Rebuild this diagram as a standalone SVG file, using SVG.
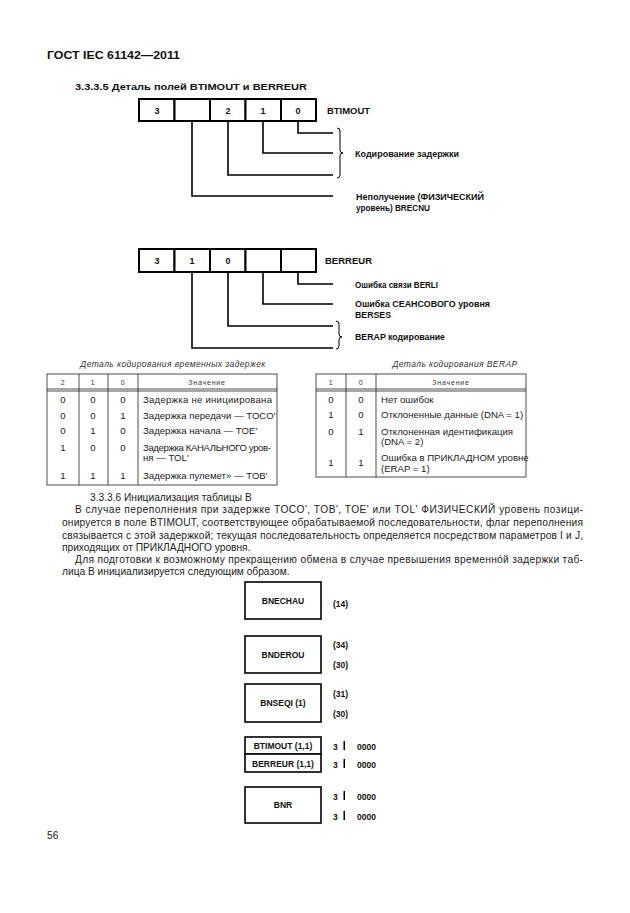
<svg xmlns="http://www.w3.org/2000/svg" width="630" height="913" viewBox="0 0 630 913">
<style>
text{font-family:"Liberation Sans",Arial,sans-serif;fill:#111}
.b{font-weight:bold}
.lbl{font-weight:bold;font-size:8.5px}
.bit{font-weight:bold;font-size:9px;text-anchor:middle}
.cell{fill:#fff;stroke:#000;stroke-width:2}
.ln{fill:none;stroke:#000;stroke-width:1.6}
.br{fill:none;stroke:#000;stroke-width:1}
.t{font-size:9.6px;fill:#222}
.th{font-size:7px;fill:#333;letter-spacing:0.8px;text-anchor:middle}
.tc{font-size:9.6px;fill:#222;text-anchor:middle}
.cap{font-size:8.5px;font-style:italic;fill:#333;text-anchor:middle;letter-spacing:0.4px}
.tl{fill:none;stroke:#222;stroke-width:0.8}
.box{fill:#fff;stroke:#000;stroke-width:1.6}
.bl{font-weight:bold;font-size:8.5px;text-anchor:middle}
.p{font-size:10.2px;fill:#222}
</style>

<g id="header">
<text class="b" x="47" y="59" font-size="11.5" textLength="133" lengthAdjust="spacingAndGlyphs">ГОСТ IEC 61142—2011</text>
<text class="b" x="75" y="90" font-size="9.5" textLength="232" lengthAdjust="spacingAndGlyphs">3.3.3.5 Деталь полей BTIMOUT и BERREUR</text>
</g>

<g id="btimout">
<rect class="cell" x="139" y="99" width="35.5" height="22"/>
<rect class="cell" x="174.5" y="99" width="35.5" height="22"/>
<rect class="cell" x="210" y="99" width="35.5" height="22"/>
<rect class="cell" x="245.5" y="99" width="35.5" height="22"/>
<rect class="cell" x="281" y="99" width="35" height="22"/>
<text class="bit" x="157" y="113.5">3</text>
<text class="bit" x="228" y="113.5">2</text>
<text class="bit" x="263" y="113.5">1</text>
<text class="bit" x="298" y="113.5">0</text>
<text class="lbl" x="327" y="113.5" textLength="43" lengthAdjust="spacingAndGlyphs">BTIMOUT</text>
</g>

<g id="btimout-labels">
<text class="lbl" x="355" y="157" textLength="104" lengthAdjust="spacingAndGlyphs">Кодирование задержки</text>
<text class="lbl" x="356" y="200" textLength="128" lengthAdjust="spacingAndGlyphs">Неполучение (ФИЗИЧЕСКИЙ</text>
<text class="lbl" x="356" y="211" textLength="74" lengthAdjust="spacingAndGlyphs">уровень) BRECNU</text>
</g>

<g id="berreur">
<rect class="cell" x="139" y="249" width="35.5" height="23"/>
<rect class="cell" x="174.5" y="249" width="35.5" height="23"/>
<rect class="cell" x="210" y="249" width="35.5" height="23"/>
<rect class="cell" x="245.5" y="249" width="35.5" height="23"/>
<rect class="cell" x="281" y="249" width="35" height="23"/>
<text class="bit" x="157" y="264">3</text>
<text class="bit" x="192" y="264">1</text>
<text class="bit" x="228" y="264">0</text>
<text class="lbl" x="325" y="264" textLength="47" lengthAdjust="spacingAndGlyphs">BERREUR</text>
</g>

<g id="berreur-labels">
<text class="lbl" x="355" y="288" textLength="83" lengthAdjust="spacingAndGlyphs">Ошибка связи BERLI</text>
<text class="lbl" x="355" y="307" textLength="135" lengthAdjust="spacingAndGlyphs">Ошибка СЕАНСОВОГО уровня</text>
<text class="lbl" x="355" y="318" textLength="36" lengthAdjust="spacingAndGlyphs">BERSES</text>
<text class="lbl" x="355" y="340" textLength="90" lengthAdjust="spacingAndGlyphs">BERAP кодирование</text>
</g>

<g id="connectors">
<path class="ln" d="M298,121 V133 H333"/>
<path class="ln" d="M263,121 V153 H333"/>
<path class="ln" d="M228,121 V175 H333"/>
<path class="ln" d="M192,121 V196 H333"/>
<path class="br" d="M337,128 q3,0 3,3 V150 q0,3 3,3 q-3,0 -3,3 V175 q0,3 -3,3"/>
<path class="ln" d="M298,272 V284 H333"/>
<path class="ln" d="M263,272 V304 H333"/>
<path class="ln" d="M228,272 V326 H333"/>
<path class="ln" d="M192,272 V348 H333"/>
<path class="br" d="M336,321 q3,0 3,3 V334 q0,3 3,3 q-3,0 -3,3 V346 q0,3 -3,3"/>
</g>

<g id="table-delays">
<text class="cap" x="173" y="367">Деталь кодирования временных задержек</text>
<rect class="tl" x="47" y="374" width="230" height="111"/>
<line class="tl" x1="79" y1="374" x2="79" y2="485"/>
<line class="tl" x1="108" y1="374" x2="108" y2="485"/>
<line class="tl" x1="138" y1="374" x2="138" y2="485"/>
<line class="tl" x1="47" y1="389" x2="277" y2="389"/>
<line class="tl" x1="47" y1="391" x2="277" y2="391"/>
<text class="th" x="63" y="385">2</text>
<text class="th" x="93" y="385">1</text>
<text class="th" x="123" y="385">0</text>
<text class="th" x="207" y="385">Значение</text>
<text class="tc" x="63" y="403">0</text><text class="tc" x="93" y="403">0</text><text class="tc" x="123" y="403">0</text>
<text class="t" x="143" y="403" textLength="129" lengthAdjust="spacing">Задержка не инициирована</text>
<text class="tc" x="63" y="419">0</text><text class="tc" x="93" y="419">0</text><text class="tc" x="123" y="419">1</text>
<text class="t" x="143" y="419">Задержка передачи — TOCO'</text>
<text class="tc" x="63" y="434">0</text><text class="tc" x="93" y="434">1</text><text class="tc" x="123" y="434">0</text>
<text class="t" x="143" y="434">Задержка начала — TOE'</text>
<text class="tc" x="63" y="451">1</text><text class="tc" x="93" y="451">0</text><text class="tc" x="123" y="451">0</text>
<text class="t" x="143" y="451" textLength="128" lengthAdjust="spacing">Задержка КАНАЛЬНОГО уров-</text>
<text class="t" x="143" y="461">ня — TOL'</text>
<text class="tc" x="63" y="479">1</text><text class="tc" x="93" y="479">1</text><text class="tc" x="123" y="479">1</text>
<text class="t" x="143" y="479">Задержка пулемет» — TOB'</text>
</g>

<g id="table-berap">
<text class="cap" x="455" y="367">Деталь кодирования BERAP</text>
<rect class="tl" x="316" y="374" width="210" height="103"/>
<line class="tl" x1="346" y1="374" x2="346" y2="477"/>
<line class="tl" x1="376" y1="374" x2="376" y2="477"/>
<line class="tl" x1="316" y1="389" x2="526" y2="389"/>
<line class="tl" x1="316" y1="391" x2="526" y2="391"/>
<text class="th" x="331" y="385">1</text>
<text class="th" x="361" y="385">0</text>
<text class="th" x="451" y="385">Значение</text>
<text class="tc" x="331" y="403">0</text><text class="tc" x="361" y="403">0</text>
<text class="t" x="381" y="403">Нет ошибок</text>
<text class="tc" x="331" y="418">1</text><text class="tc" x="361" y="418">0</text>
<text class="t" x="381" y="418">Отклоненные данные (DNA = 1)</text>
<text class="tc" x="331" y="435">0</text><text class="tc" x="361" y="435">1</text>
<text class="t" x="381" y="435">Отклоненная  идентификация</text>
<text class="t" x="381" y="445">(DNA = 2)</text>
<text class="tc" x="331" y="466">1</text><text class="tc" x="361" y="466">1</text>
<text class="t" x="381" y="461">Ошибка в ПРИКЛАДНОМ уровне</text>
<text class="t" x="381" y="472">(ERAP = 1)</text>
</g>

<g id="paragraph">
<text class="p" x="90" y="501">3.3.3.6 Инициализация таблицы В</text>
<text class="p" x="75" y="513" textLength="508" lengthAdjust="spacing">В случае  переполнения при задержке TOCO', TOB',  TOE'  или TOL'  ФИЗИЧЕСКИЙ уровень позици-</text>
<text class="p" x="62" y="526" textLength="521" lengthAdjust="spacing">онируется в  поле BTIMOUT, соответствующее  обрабатываемой  последовательности, флаг переполнения</text>
<text class="p" x="62" y="539" textLength="521" lengthAdjust="spacing">связывается с этой задержкой; текущая последовательность  определяется посредством параметров I и J,</text>
<text class="p" x="62" y="551">приходящих от ПРИКЛАДНОГО уровня.</text>
<text class="p" x="75" y="563" textLength="508" lengthAdjust="spacing">Для подготовки к возможному прекращению обмена в случае превышения временнóй задержки таб-</text>
<text class="p" x="62" y="575">лица В инициализируется следующим образом.</text>
</g>

<g id="bnechau">
<rect class="box" x="245" y="582" width="76" height="37"/>
<text class="bl" x="283" y="604">BNECHAU</text>
<text class="lbl" x="333" y="607">(14)</text>
</g>
<g id="bnderou">
<rect class="box" x="245" y="636" width="76" height="37"/>
<text class="bl" x="283" y="658">BNDEROU</text>
<text class="lbl" x="333" y="648">(34)</text>
<text class="lbl" x="333" y="668">(30)</text>
</g>
<g id="bnseqi">
<rect class="box" x="245" y="684" width="76" height="38"/>
<text class="bl" x="283" y="706">BNSEQI (1)</text>
<text class="lbl" x="333" y="697">(31)</text>
<text class="lbl" x="333" y="717">(30)</text>
</g>
<g id="btimout-init">
<rect class="box" x="245" y="737" width="76" height="17"/>
<text class="bl" x="283" y="749">BTIMOUT (1,1)</text>
<text class="lbl" x="333" y="750">3</text>
<rect x="343.5" y="741" width="1.5" height="9" fill="#000"/>
<text class="lbl" x="357" y="750">0000</text>
</g>
<g id="berreur-init">
<rect class="box" x="245" y="754" width="76" height="18"/>
<text class="bl" x="283" y="767">BERREUR (1,1)</text>
<text class="lbl" x="333" y="768">3</text>
<rect x="343.5" y="759" width="1.5" height="9" fill="#000"/>
<text class="lbl" x="357" y="768">0000</text>
</g>
<g id="bnr">
<rect class="box" x="245" y="787" width="76" height="36"/>
<text class="bl" x="283" y="808">BNR</text>
<text class="lbl" x="333" y="800">3</text>
<rect x="343.5" y="791" width="1.5" height="9" fill="#000"/>
<text class="lbl" x="357" y="800">0000</text>
<text class="lbl" x="333" y="820">3</text>
<rect x="343.5" y="811" width="1.5" height="9" fill="#000"/>
<text class="lbl" x="357" y="820">0000</text>
</g>

<g id="footer">
<text class="p" x="47" y="839" font-size="9.5">56</text>
</g>
</svg>
